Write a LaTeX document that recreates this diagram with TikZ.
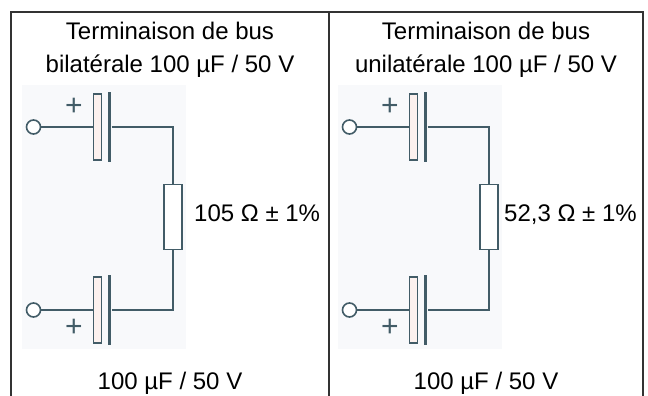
\documentclass[tikz,border=0pt]{standalone}
\usepackage{fontspec}
\setmainfont{Liberation Sans}
\usetikzlibrary{positioning}
\definecolor{wirecol}{HTML}{425C67}
\definecolor{framecol}{HTML}{333333}
\definecolor{shadecol}{HTML}{F8F9FB}
\definecolor{platecol}{HTML}{FCF1EE}
\tikzset{
  wire/.style={draw=wirecol, line width=2pt},
  term/.style={circle, draw=wirecol, fill=white, line width=1.6pt, minimum size=14pt, inner sep=0pt},
  hplate/.style={rectangle, draw=wirecol, fill=platecol, line width=1.6pt, minimum width=8pt, minimum height=66pt, inner sep=0pt},
  splate/.style={rectangle, fill=wirecol, minimum width=3.8pt, minimum height=70pt, inner sep=0pt},
  resbox/.style={rectangle, draw=wirecol, fill=white, line width=1.6pt, minimum width=18pt, minimum height=65pt, inner sep=0pt},
  txt/.style={font=\fontsize{24}{28}\selectfont, inner sep=0pt, anchor=base},
  plus/.style={font=\fontsize{30}{34}\selectfont, text=wirecol, inner sep=0pt},
}
\begin{document}
\begin{tikzpicture}[x=1pt,y=1pt]
	\useasboundingbox (0,0) rectangle (648,396);
	% table
	\draw[framecol, line width=1.2pt] (11,0) -- (11,384) -- (643,384) -- (643,0)
	(329,0) -- (329,384);
	\node[txt] (titleA) at (170,356) {Terminaison de bus};
	\node[txt] (subA) at (170,323) {bilatérale 100 µF / 50 V};
	\node[txt] (capA) at (170,6) {100 µF / 50 V};
	\node[txt] (titleB) at (486,356) {Terminaison de bus};
	\node[txt] (subB) at (486,323) {unilatérale 100 µF / 50 V};
	\node[txt] (capB) at (486,6) {100 µF / 50 V};
	% left circuit
	\fill[shadecol] (22,47) rectangle (186,311);
	\node[term] (tA1) at (33.5,269) {};
	\node[hplate] (pA1) at (97.5,269) {};
	\node[splate] (qA1) at (109.5,269) {};
	\node[plus] (sA1) at (74,289) {+};
	\node[resbox] (rA) at (173,179) {};
	\node[term] (tA2) at (33.5,86) {};
	\node[hplate] (pA2) at (97.5,86) {};
	\node[splate] (qA2) at (109.5,86) {};
	\node[plus] (sA2) at (74,68) {+};
	\draw[wire] (tA1) -- (pA1) (qA1) -| (rA) (rA) |- (qA2) (pA2) -- (tA2);
	\node[txt, anchor=base west] (valA) at (194,174) {105 Ω ± 1\%};
	% right circuit
	\fill[shadecol] (338,47) rectangle (502,311);
	\node[term] (tB1) at (349.5,269) {};
	\node[hplate] (pB1) at (413.5,269) {};
	\node[splate] (qB1) at (425.5,269) {};
	\node[plus] (sB1) at (390,289) {+};
	\node[resbox] (rB) at (489,179) {};
	\node[term] (tB2) at (349.5,86) {};
	\node[hplate] (pB2) at (413.5,86) {};
	\node[splate] (qB2) at (425.5,86) {};
	\node[plus] (sB2) at (390,68) {+};
	\draw[wire] (tB1) -- (pB1) (qB1) -| (rB) (rB) |- (qB2) (pB2) -- (tB2);
	\node[txt, anchor=base west] (valB) at (504,174) {52,3 Ω ± 1\%};
\end{tikzpicture}
\end{document}
